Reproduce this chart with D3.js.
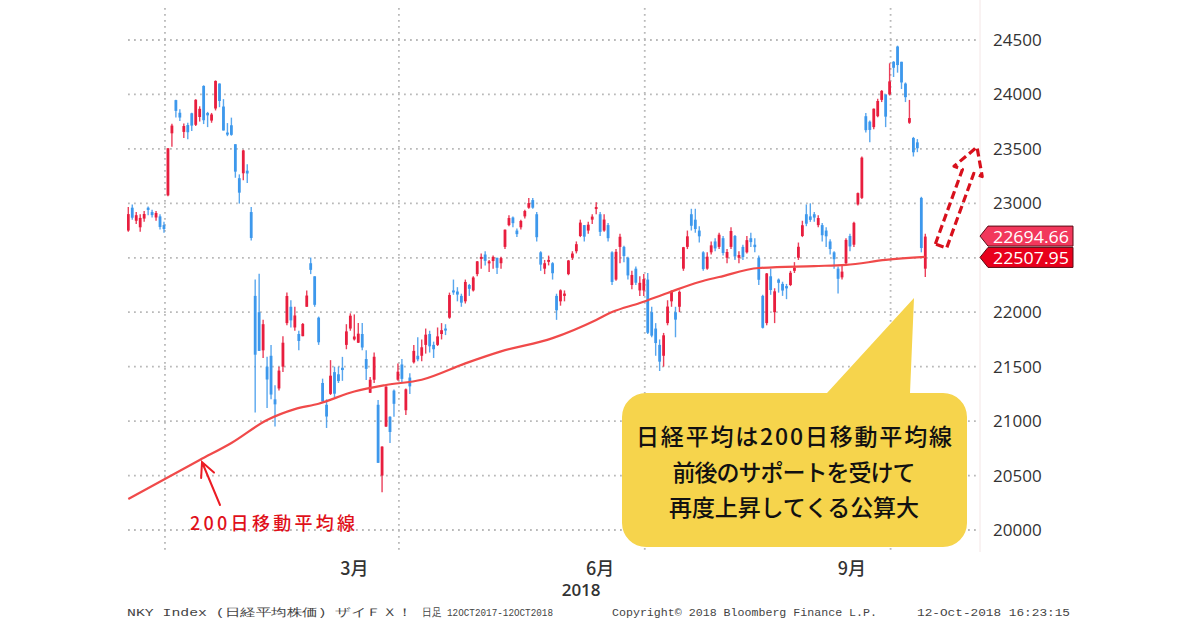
<!DOCTYPE html>
<html><head><meta charset="utf-8">
<script src="https://cdn.jsdelivr.net/npm/d3@7"></script>
<style>html,body{margin:0;padding:0;background:#fff;}svg{display:block;}</style>
</head><body>
<svg id="c" width="1200" height="630"></svg>
<script>
// ---------- DATA ----------
const dates = [
 "2017-12-18","2017-12-19","2017-12-20","2017-12-21","2017-12-22","2017-12-25","2017-12-26","2017-12-27","2017-12-28","2017-12-29",
 "2018-01-04","2018-01-05","2018-01-09","2018-01-10","2018-01-11","2018-01-12","2018-01-15","2018-01-16","2018-01-17","2018-01-18","2018-01-19","2018-01-22","2018-01-23","2018-01-24","2018-01-25","2018-01-26","2018-01-29","2018-01-30","2018-01-31",
 "2018-02-01","2018-02-02","2018-02-05","2018-02-06","2018-02-07","2018-02-08","2018-02-09","2018-02-13","2018-02-14","2018-02-15","2018-02-16","2018-02-19","2018-02-20","2018-02-21","2018-02-22","2018-02-23","2018-02-26","2018-02-27","2018-02-28",
 "2018-03-01","2018-03-02","2018-03-05","2018-03-06","2018-03-07","2018-03-08","2018-03-09","2018-03-12","2018-03-13","2018-03-14","2018-03-15","2018-03-16","2018-03-19","2018-03-20","2018-03-22","2018-03-23","2018-03-26","2018-03-27","2018-03-28","2018-03-29","2018-03-30",
 "2018-04-02","2018-04-03","2018-04-04","2018-04-05","2018-04-06","2018-04-09","2018-04-10","2018-04-11","2018-04-12","2018-04-13","2018-04-16","2018-04-17","2018-04-18","2018-04-19","2018-04-20","2018-04-23","2018-04-24","2018-04-25","2018-04-26","2018-04-27",
 "2018-05-01","2018-05-02","2018-05-07","2018-05-08","2018-05-09","2018-05-10","2018-05-11","2018-05-14","2018-05-15","2018-05-16","2018-05-17","2018-05-18","2018-05-21","2018-05-22","2018-05-23","2018-05-24","2018-05-25","2018-05-28","2018-05-29","2018-05-30","2018-05-31",
 "2018-06-01","2018-06-04","2018-06-05","2018-06-06","2018-06-07","2018-06-08","2018-06-11","2018-06-12","2018-06-13","2018-06-14","2018-06-15","2018-06-18","2018-06-19","2018-06-20","2018-06-21","2018-06-22","2018-06-25","2018-06-26","2018-06-27","2018-06-28","2018-06-29",
 "2018-07-02","2018-07-03","2018-07-04","2018-07-05","2018-07-06","2018-07-09","2018-07-10","2018-07-11","2018-07-12","2018-07-13","2018-07-17","2018-07-18","2018-07-19","2018-07-20","2018-07-23","2018-07-24","2018-07-25","2018-07-26","2018-07-27","2018-07-30","2018-07-31",
 "2018-08-01","2018-08-02","2018-08-03","2018-08-06","2018-08-07","2018-08-08","2018-08-09","2018-08-10","2018-08-13","2018-08-14","2018-08-15","2018-08-16","2018-08-17","2018-08-20","2018-08-21","2018-08-22","2018-08-23","2018-08-24","2018-08-27","2018-08-28","2018-08-29","2018-08-30","2018-08-31",
 "2018-09-03","2018-09-04","2018-09-05","2018-09-06","2018-09-07","2018-09-10","2018-09-11","2018-09-12","2018-09-13","2018-09-14","2018-09-18","2018-09-19","2018-09-20","2018-09-21","2018-09-25","2018-09-26","2018-09-27","2018-09-28",
 "2018-10-01","2018-10-02","2018-10-03","2018-10-04","2018-10-05","2018-10-09","2018-10-10","2018-10-11","2018-10-12"
];
const opens = [
 22750,22960,22840,22780,22860,22960,22920,22870,22880,22800,
 23073,23643,23948,23832,23656,23719,23827,23721,23793,24078,23830,23760,23871,24100,23889,23650,23717,23543,23231,
 23276,23300,22920,22150,22000,21650,21500,21600,21200,21300,21500,21900,22050,21860,21800,21780,22050,22450,22330,
 21950,21350,21150,21250,21450,21430,21490,21700,21850,21750,21720,21800,21570,21260,21380,21150,20500,20950,21040,21280,21380,
 21520,21100,21400,21540,21600,21600,21700,21800,21700,21700,21800,21850,21950,22200,22190,22150,22100,22250,22200,22350,
 22500,22530,22450,22470,22500,22450,22600,22800,22870,22750,22780,22880,22960,23030,22900,22550,22400,22480,22450,22150,22100,
 22150,22350,22500,22560,22700,22800,22750,22850,22950,22900,22750,22800,22550,22300,22600,22600,22500,22250,22400,22200,22200,
 22300,22000,21850,21700,21600,21900,22100,22000,22050,22400,22600,22900,22850,22750,22550,22400,22550,22650,22600,22680,22500,
 22600,22700,22500,22600,22550,22680,22620,22500,22150,21900,22330,22000,22300,22260,22240,22250,22380,22500,22700,22900,22880,22900,22800,
 22800,22750,22650,22550,22400,22320,22450,22700,22620,22990,23050,23800,23750,23700,23800,23950,24000,24000,
 24300,24440,24300,24100,23740,23600,23560,23050,22400
];
const highs = [
 22966,22990,22920,22900,22930,22970,22940,22930,22900,22830,
 23506,23730,23952,23864,23734,23739,23833,23955,23891,24084,23840,23830,24129,24102,23957,23737,23787,23543,23266,
 23492,23360,22967,22300,22353,21930,21590,21700,21330,21500,21780,22180,22110,22050,21830,21900,22200,22502,22330,
 21960,21390,21200,21560,21500,21500,21590,21890,21990,21980,21900,21900,21650,21405,21630,21194,20770,21320,21045,21290,21530,
 21570,21300,21440,21700,21770,21750,21850,21830,21730,21860,21900,21890,22180,22300,22230,22170,22300,22260,22330,22470,
 22540,22560,22480,22520,22500,22510,22760,22890,22880,22770,22850,22940,23050,23050,22920,22560,22480,22520,22460,22170,22210,
 22200,22480,22560,22650,22850,22800,22830,22900,23010,22920,22900,22820,22560,22580,22720,22610,22510,22380,22420,22330,22350,
 22360,22050,21900,21750,21810,22110,22200,22050,22200,22600,22750,22950,22950,22790,22560,22550,22650,22680,22730,22700,22580,
 22780,22710,22560,22620,22700,22730,22680,22520,22160,22360,22400,22220,22310,22280,22260,22380,22460,22640,22840,22990,23000,22920,22890,
 22820,22780,22670,22560,22420,22430,22680,22720,22830,23100,23430,23830,23760,23870,23960,24040,24000,24286,
 24306,24448,24300,24110,23950,23610,23590,23060,22720
];
const lows = [
 22740,22850,22810,22740,22830,22890,22870,22840,22760,22730,
 23065,23520,23789,23755,23601,23588,23665,23711,23751,23728,23700,23740,23853,23883,23669,23617,23621,23235,22998,
 23211,23186,22659,21078,21645,21580,21121,21200,20950,21280,21450,21880,21860,21830,21650,21780,22050,22350,22050,
 21700,21180,20937,21240,21220,21350,21370,21660,21830,21740,21718,21650,21378,21258,21350,20615,20347,20946,20800,21040,21370,
 21350,21056,21250,21530,21550,21550,21620,21630,21580,21690,21750,21790,21940,22160,22100,22050,22080,22150,22190,22330,
 22400,22430,22370,22400,22350,22400,22580,22790,22780,22690,22760,22860,22950,22950,22650,22380,22350,22430,22300,21930,22060,
 22100,22340,22480,22540,22690,22650,22720,22810,22900,22700,22740,22650,22250,22290,22450,22460,22300,22210,22250,22150,22150,
 21800,21770,21600,21460,21500,21880,22050,21770,22000,22380,22580,22750,22730,22640,22380,22390,22530,22560,22580,22520,22450,
 22580,22480,22450,22480,22540,22600,22550,22250,21851,21880,22160,21900,22180,22150,22120,22240,22360,22480,22690,22790,22830,22830,22780,
 22650,22600,22530,22400,22172,22300,22440,22560,22600,22980,23040,23650,23560,23680,23790,23930,23700,23990,
 24160,24200,24050,23930,23730,23430,23470,22550,22323
];
const closes = [
 22901,22868,22891,22866,22902,22939,22892,22911,22783,22764,
 23506,23714,23849,23788,23710,23653,23714,23951,23868,23763,23808,23816,24124,23940,23669,23631,23629,23291,23098,
 23486,23274,22682,21610,21645,21890,21382,21244,21154,21464,21720,22149,21925,21970,21736,21892,22153,22389,22068,
 21724,21181,21042,21417,21252,21368,21469,21824,21968,21777,21803,21676,21480,21380,21591,20617,20766,21317,20900,21159,21454,
 21388,21292,21319,21645,21567,21678,21794,21687,21660,21778,21835,21847,22158,22191,22162,22088,22278,22215,22319,22467,
 22508,22472,22467,22508,22408,22497,22758,22865,22818,22717,22838,22930,23002,22960,22689,22437,22450,22481,22358,22018,22201,
 22171,22475,22539,22625,22823,22694,22804,22878,22966,22738,22851,22680,22278,22555,22693,22516,22338,22342,22271,22270,22304,
 21811,21785,21717,21546,21788,22052,22196,21932,22187,22597,22697,22794,22764,22697,22396,22510,22614,22586,22712,22544,22553,
 22746,22512,22525,22507,22662,22644,22598,22298,21857,22356,22204,22192,22270,22199,22219,22362,22410,22601,22799,22813,22848,22869,22865,
 22707,22697,22580,22487,22307,22373,22664,22604,22821,23094,23420,23672,23674,23869,23940,24033,23796,24120,
 24245,24270,24110,23975,23783,23469,23506,22590,22694.66
];
// 200-day moving average
const maDates = ["2017-12-18","2018-01-17","2018-01-29","2018-02-09","2018-02-21","2018-03-01","2018-03-14","2018-03-27","2018-04-09","2018-04-24","2018-05-10","2018-05-29","2018-06-13","2018-06-19","2018-06-28","2018-07-09","2018-07-20","2018-07-27","2018-08-10","2018-08-30","2018-09-11","2018-09-27","2018-10-12"];
const maValues = [20285,20643,20799,21010,21110,21160,21272,21332,21380,21530,21640,21762,21929,22002,22085,22177,22278,22323,22406,22424,22434,22480,22507.95];

const yTicks = [20000,20500,21000,21500,22000,22500,23000,23500,24000,24500];
const monthKeys = ["2018-03","2018-06","2018-09"];
const monthLabels = ["3月","6月","9月"];
const yearLabel = "2018";
const quarterStarts = ["2018-01-04","2018-04-02","2018-07-02","2018-10-01"];
const calloutLines = ["日経平均は200日移動平均線","前後のサポートを受けて","再度上昇してくる公算大"];
const maLabel = "200日移動平均線";
const footerParts = ["NKY Index (日経平均株価) ザイＦＸ！","日足 12OCT2017-12OCT2018","Copyright© 2018 Bloomberg Finance L.P.","12-Oct-2018 16:23:15"];

// ---------- CHART ----------
const svg = d3.select("#c");
const plotL = 127, plotR = 979, plotT = 6, plotB = 550;
const x = d3.scalePoint().domain(dates).range([128.3, 925.3]);
const step = x.step();
const y = d3.scaleLinear().domain([20000, 24500]).range([530, 40]);

const lastClose = closes[closes.length-1];
const lastMA = maValues[maValues.length-1];

svg.append("rect").attr("width",1200).attr("height",630).attr("fill","#fff");

// faint right edge
svg.append("line").attr("x1",980).attr("x2",980).attr("y1",0).attr("y2",552)
  .attr("stroke","#f4e6e6").attr("stroke-width",1);

// horizontal grid
svg.append("g").selectAll("line").data(yTicks).join("line")
  .attr("x1",plotL+1).attr("x2",plotR-2)
  .attr("y1",d=>y(d)).attr("y2",d=>y(d))
  .attr("stroke","#b9b9b9").attr("stroke-width",1.8).attr("stroke-dasharray","1.8 4.2");

// vertical grid
svg.append("g").selectAll("line").data(quarterStarts).join("line")
  .attr("x1",d=>x(d)-step/2-1).attr("x2",d=>x(d)-step/2-1)
  .attr("y1",8).attr("y2",552)
  .attr("stroke","#b9b9b9").attr("stroke-width",1.8).attr("stroke-dasharray","1.8 4.2");

// right axis (labels hidden where the price tags sit)
const visibleTicks = yTicks.filter(t => Math.abs(y(t)-y(lastClose))>14 && Math.abs(y(t)-y(lastMA))>14);
const axis = d3.axisRight(y).tickValues(visibleTicks).tickSize(0).tickPadding(0).tickFormat(d3.format("d"));
const ag = svg.append("g").attr("transform","translate(993,0)").call(axis);
ag.select(".domain").remove();
ag.selectAll("text").attr("font-family","'Open Sans', 'Noto Sans', sans-serif")
  .attr("font-size",17).attr("fill","#333");

// clip
svg.append("clipPath").attr("id","clip").append("rect")
  .attr("x",plotL).attr("y",plotT).attr("width",plotR-plotL).attr("height",plotB-plotT);
const plot = svg.append("g").attr("clip-path","url(#clip)");

const bars = dates.map((d,i)=>({d,o:opens[i],h:highs[i],l:lows[i],c:closes[i]}));
const up = "#e81e3e", down = "#3d98ec";
const cg = plot.append("g");
cg.selectAll("line").data(bars).join("line")
  .attr("x1",b=>x(b.d)).attr("x2",b=>x(b.d))
  .attr("y1",b=>y(b.h)).attr("y2",b=>y(b.l))
  .attr("stroke",b=>b.c>=b.o?up:down).attr("stroke-width",1.4).attr("opacity",0.85);
cg.selectAll("rect").data(bars).join("rect")
  .attr("x",b=>x(b.d)-1.4).attr("width",2.8)
  .attr("y",b=>y(Math.max(b.o,b.c)))
  .attr("height",b=>Math.max(2,Math.abs(y(b.o)-y(b.c))))
  .attr("fill",b=>b.c>=b.o?up:down);

// moving average
const maPts = maDates.map((d,i)=>[x(d), y(maValues[i])]);
plot.append("path").attr("d", d3.line().curve(d3.curveMonotoneX)(maPts))
  .attr("fill","none").attr("stroke","#f04a4a").attr("stroke-width",2.2);

// month labels
monthKeys.forEach((k,i)=>{
  const xs = dates.filter(d=>d.startsWith(k)).map(d=>x(d));
  svg.append("text").attr("x",d3.mean(xs)-4).attr("y",567)
    .attr("text-anchor","middle").attr("dominant-baseline","central")
    .attr("font-family","'Noto Sans CJK JP', sans-serif").attr("font-size",18).attr("font-weight",500)
    .attr("fill","#333").text(monthLabels[i]);
});
svg.append("text").attr("x",d3.mean(dates.filter(d=>d.startsWith("2018-06")).map(d=>x(d)))-23).attr("y",589)
  .attr("text-anchor","middle").attr("dominant-baseline","central")
  .attr("font-family","'Open Sans', sans-serif").attr("font-size",17).attr("font-weight",600)
  .attr("fill","#333").text(yearLabel);

// footer
const fx = [127,422,612,917], fw = [286,131,265,153];
footerParts.forEach((t,i)=>{
  svg.append("text").attr("x",fx[i]).attr("y",616)
    .attr("font-family","'Liberation Mono','DejaVu Sans Mono',monospace").attr("font-size",10.5)
    .attr("fill","#444").attr("textLength",fw[i]).attr("lengthAdjust","spacingAndGlyphs").text(t);
});

// price labels
function tag(val, fill, shift){
  const yc = y(val)+shift;
  const g = svg.append("g");
  g.append("path").attr("d",`M980,${yc} L988,${yc-10} L1073,${yc-10} L1073,${yc+10} L988,${yc+10} Z`)
    .attr("fill",fill).attr("stroke","#5a0a14").attr("stroke-width",1);
  g.append("text").attr("x",993).attr("y",yc+0.5).attr("dominant-baseline","central")
    .attr("font-family","'Open Sans', sans-serif").attr("font-size",15.5).attr("fill","#fff")
    .attr("textLength",76).attr("lengthAdjust","spacingAndGlyphs")
    .text(d3.format(".2f")(val));
}
tag(lastClose, "#f2385c", -0.5);
tag(lastMA, "#e8001c", 0.5);

// dashed block arrow
(function(){
  const B=[941,246], T=[977,147];
  const L=Math.hypot(T[0]-B[0],T[1]-B[1]);
  const u=[(T[0]-B[0])/L,(T[1]-B[1])/L], v=[-u[1],u[0]];
  const P=(a,b)=>[B[0]+a*u[0]+b*v[0], B[1]+a*u[1]+b*v[1]];
  const hl=26, sw=6, hw=15;
  const pts=[P(0,-sw),P(L-hl,-sw),P(L-hl,-hw),P(L,0),P(L-hl,hw),P(L-hl,sw),P(0,sw)];
  svg.append("path").attr("d","M"+pts.map(p=>p.join(",")).join("L")+"Z")
    .attr("fill","none").attr("stroke","#d8101c").attr("stroke-width",3.2)
    .attr("stroke-dasharray","8 4").attr("stroke-linejoin","round");
})();

// MA annotation arrow + text
(function(){
  const S=[220,505], T=[202,462];
  const ang=Math.atan2(T[1]-S[1],T[0]-S[0]);
  const w=16, sp=0.45;
  const a1=[T[0]-w*Math.cos(ang-sp), T[1]-w*Math.sin(ang-sp)];
  const a2=[T[0]-w*Math.cos(ang+sp), T[1]-w*Math.sin(ang+sp)];
  svg.append("path").attr("d",`M${S}L${T}M${a1}L${T}L${a2}`)
    .attr("fill","none").attr("stroke","#ec1c24").attr("stroke-width",2).attr("stroke-linecap","round");
  svg.append("text").attr("x",190).attr("y",522).attr("dominant-baseline","central")
    .attr("font-family","'Noto Sans CJK JP', sans-serif").attr("font-size",18).attr("font-weight",500)
    .attr("fill","#e0101a").attr("textLength",165).attr("lengthAdjust","spacing").text(maLabel);
})();

// callout
(function(){
  const l=622,r=967,t=393,b=547,rad=24;
  const d=`M${l+rad},${t} L827,${t} L914,298 L910,${t} L${r-rad},${t} A${rad},${rad} 0 0 1 ${r},${t+rad}
    L${r},${b-rad} A${rad},${rad} 0 0 1 ${r-rad},${b} L${l+rad},${b} A${rad},${rad} 0 0 1 ${l},${b-rad}
    L${l},${t+rad} A${rad},${rad} 0 0 1 ${l+rad},${t} Z`;
  svg.append("path").attr("d",d).attr("fill","#f6d44c");
  const ys=[435,471,506], ws=[316,243,250];
  calloutLines.forEach((s,i)=>{
    svg.append("text").attr("x",794).attr("y",ys[i]).attr("text-anchor","middle").attr("dominant-baseline","central")
      .attr("font-family","'Noto Sans CJK JP', sans-serif").attr("font-size",23).attr("font-weight",500)
      .attr("fill","#111").attr("textLength",ws[i]).attr("lengthAdjust","spacing").text(s);
  });
})();
</script>
</body></html>
